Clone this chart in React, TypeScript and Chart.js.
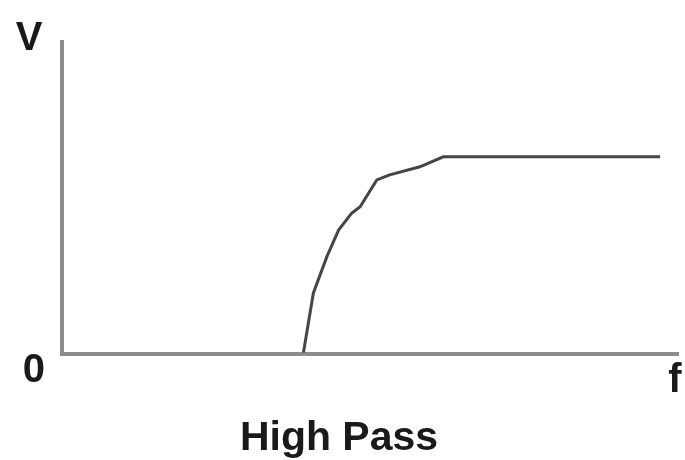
import React, { useEffect, useRef } from "react";
import { Chart, registerables } from "chart.js";

Chart.register(...registerables);

// Frequency (x) and output voltage (y) of the high-pass response, in axis units 0..100
const freq = [39.2, 40.8, 43.0, 44.9, 47.0, 48.4, 51.1, 53.2, 58.1, 61.9, 97.1];
const volts = [0.5, 19.5, 31.2, 39.7, 45.1, 47.2, 55.8, 57.4, 60.0, 63.2, 63.2];

const X_MAX = 100;
const Y_MAX = 100;
const yTickValues = [0];
const yTickLabels = ["0"];
const yAxisLabel = "V";
const xAxisLabel = "f";
const chartTitle = "High Pass";

const FONT = '"Liberation Sans", Arial, sans-serif';

const axisEndLabels = {
  id: "axisEndLabels",
  afterDraw(chart: any) {
    const { ctx, chartArea } = chart;
    ctx.save();
    ctx.font = `bold 40px ${FONT}`;
    ctx.fillStyle = "#1a1a1a";
    ctx.textAlign = "center";
    ctx.textBaseline = "alphabetic";
    ctx.fillText(yAxisLabel, chartArea.left - 33, chartArea.top + 8);
    ctx.fillText(xAxisLabel, chartArea.right - 3, chartArea.bottom + 38);
    ctx.restore();
  },
};

export default function App() {
  const ref = useRef<HTMLCanvasElement>(null);
  useEffect(() => {
    if (!ref.current) return;
    const chart = new Chart(ref.current, {
      type: "line",
      data: {
        datasets: [
          {
            data: freq.map((x, i) => ({ x, y: volts[i] })),
            borderColor: "#454545",
            borderWidth: 3,
            pointRadius: 0,
            tension: 0,
            fill: false,
          },
        ],
      },
      options: {
        animation: false,
        responsive: false,
        devicePixelRatio: 1,
        layout: { padding: { top: 42, right: 7, left: 0, bottom: 1 } },
        plugins: {
          legend: { display: false },
          tooltip: { enabled: false },
          title: {
            display: true,
            text: chartTitle,
            position: "bottom",
            color: "#1a1a1a",
            font: { family: FONT, size: 41, weight: "bold", lineHeight: 1.0 },
            padding: { top: 0, bottom: 0 },
          },
        },
        scales: {
          x: {
            type: "linear",
            min: 0,
            max: X_MAX,
            grid: { display: false, drawTicks: false },
            border: { display: true, color: "#8c8c8c", width: 4 },
            ticks: { display: false },
            afterFit: (s: any) => {
              s.height = 64;
            },
          },
          y: {
            type: "linear",
            min: 0,
            max: Y_MAX,
            grid: { display: false, drawTicks: false },
            border: { display: true, color: "#8c8c8c", width: 4 },
            afterBuildTicks: (s: any) => {
              s.ticks = yTickValues.map((v) => ({ value: v }));
            },
            ticks: {
              autoSkip: false,
              padding: 17,
              labelOffset: 17,
              color: "#1a1a1a",
              font: { family: FONT, size: 40, weight: "bold" },
              callback: (v: any) => {
                const i = yTickValues.indexOf(Number(v));
                return i >= 0 ? yTickLabels[i] : "";
              },
            },
            afterFit: (s: any) => {
              s.width = 62;
            },
          },
        },
      },
      plugins: [axisEndLabels],
    });
    return () => chart.destroy();
  }, []);
  return (
    <div style={{ position: "absolute", left: 0, top: 0, width: 685, height: 460, background: "#fff" }}>
      <canvas ref={ref} width={685} height={460} style={{ width: 685, height: 460, display: "block" }} />
    </div>
  );
}
